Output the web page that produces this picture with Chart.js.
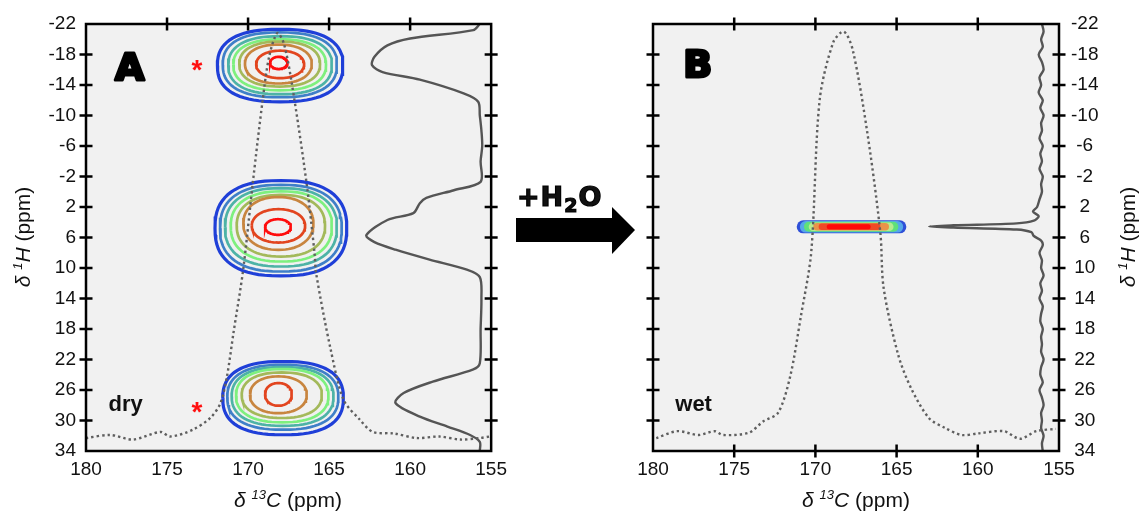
<!DOCTYPE html>
<html>
<head>
<meta charset="utf-8">
<script src="https://cdn.jsdelivr.net/npm/chart.js@4.4.0/dist/chart.umd.min.js"></script>
<style>
  body { margin: 0; background: #fff; width: 1145px; height: 518px; position: relative; overflow: hidden;
         font-family: "Liberation Sans", Arial, sans-serif; color: #111; }
  #cA { position: absolute; left: 0; top: 0; }
  #cB { position: absolute; left: 600px; top: 0; }
  .xt { position: absolute; top: 488px; font-size: 21px; line-height: 24px; white-space: nowrap; transform: translateX(-50%); }
  .yt { position: absolute; top: 237px; font-size: 21px; line-height: 24px; white-space: nowrap;
        transform: translate(-50%, -50%) rotate(-90deg); }
  sup { font-size: 13px; line-height: 0; vertical-align: 8px; }
  #h2o { position: absolute; left: 517px; top: 181px; font: bold 27px "DejaVu Sans", sans-serif;
         -webkit-text-stroke: 1.2px #000; letter-spacing: 1px; }
  #h2o sub { font-size: 19px; line-height: 0; vertical-align: -6px; }
  #arrow { position: absolute; left: 0; top: 0; }
</style>
</head>
<body>
<canvas id="cA" width="514" height="518"></canvas>
<canvas id="cB" width="545" height="518"></canvas>
<svg id="arrow" width="1145" height="518"><polygon points="516,218 612,218 612,207 635,230 612,254 612,242 516,242" fill="#000"/></svg>
<div id="h2o">+H<sub>2</sub>O</div>
<div class="xt" style="left:288px"><i>δ <sup>13</sup>C</i> (ppm)</div>
<div class="xt" style="left:856px"><i>δ <sup>13</sup>C</i> (ppm)</div>
<div class="yt" style="left:23px"><i>δ <sup>1</sup>H</i> (ppm)</div>
<div class="yt" style="left:1128px"><i>δ <sup>1</sup>H</i> (ppm)</div>
<script>
const xTicks = [180, 175, 170, 165, 160, 155];
const yTicks = [-22, -18, -14, -10, -6, -2, 2, 6, 10, 14, 18, 22, 26, 30, 34];

// dry: 1H projection (solid trace on the right)
const dryProjH = [-22, -21.2, -20.1, -19.2, -17.7, -16.6, -15.7, -14.7, -12.9, -11.8, -10, -8, -6, -4, -1.3, -0.2, 0.8, 1.5, 2.8, 3.7, 5.7, 6.6, 7.6, 8.9, 10.2, 11.2, 14, 18, 22.5, 23.3, 24.9, 26.4, 27.7, 29.5, 30.8, 31.9, 32.8, 34];
const dryProjC = [155.7, 156.1, 160.0, 161.4, 162.2, 162.35, 161.7, 159.4, 156.7, 155.8, 155.7, 155.6, 155.55, 155.65, 155.65, 157.3, 159.0, 159.4, 159.8, 161.4, 162.7, 162.2, 160.9, 158.8, 156.5, 155.7, 155.6, 155.65, 155.7, 156.1, 158.6, 160.4, 160.9, 159.4, 157.7, 156.3, 155.7, 155.7];

// dry: 13C projection (dotted)
const dryCprojC = [180, 178.5, 177.1, 175.4, 174.8, 173.4, 172.3, 171.7, 171.3, 170.9, 170.3, 169.7, 169.1, 168.7, 168.2, 167.8, 167.3, 166.4, 165.9, 165.8, 164.9, 164.1, 163.1, 162.3, 161.0, 159.6, 158.2, 156.9, 155.7, 155.1];
const dryCprojH = [32.3, 31.9, 32.5, 31.5, 32.1, 31.2, 29.6, 27.7, 24.2, 18.5, 10.2, -1.3, -12.0, -17.7, -20.8, -19.5, -14.2, -1.3, 8.0, 10.7, 20.7, 27.3, 29.9, 31.5, 31.7, 32.3, 32.1, 32.5, 32.3, 32.1];

// dry: contour levels, outermost first: [C left, C right, H top, H bottom]
const dryPeakTop = [
  [171.89, 164.15, -21.3, -11.8],
  [171.56, 164.52, -20.9, -12.4],
  [171.22, 164.83, -20.4, -12.8],
  [170.91, 165.19, -20.0, -13.3],
  [170.54, 165.56, -19.7, -13.8],
  [170.19, 166.07, -19.3, -14.2],
  [169.5, 166.54, -18.5, -14.9],
  [168.64, 167.57, -17.7, -16.1]
];
const dryPeakMid = [
  [172.04, 163.91, -1.46, 11.03],
  [171.73, 164.22, -0.9, 10.46],
  [171.42, 164.52, -0.47, 9.8],
  [171.07, 164.83, -0.05, 9.15],
  [170.7, 165.25, 0.41, 8.5],
  [170.29, 165.97, 0.7, 7.62],
  [169.77, 166.48, 2.29, 6.66],
  [168.95, 167.36, 3.6, 5.65]
];
const dryPeakBot = [
  [171.56, 164.12, 22.26, 31.87],
  [171.28, 164.43, 22.7, 31.2],
  [171.01, 164.73, 23.0, 30.7],
  [170.74, 165.04, 23.26, 30.24],
  [170.39, 165.45, 23.7, 29.67],
  [169.88, 166.38, 24.22, 29.03],
  [168.95, 167.3, 25.09, 28.06]
];

// wet: 1H projection (solid)
const wetProjH = [-22, -21, -20, -19, -18, -17, -16, -15, -14, -13, -12, -11, -10, -9, -8, -7, -6, -5, -4, -3, -2, -1, 0, 1, 2, 2.6, 3.2, 3.8, 4.15, 4.4, 4.55, 4.7, 4.95, 5.3, 5.8, 6.4, 7, 8, 9, 10, 11, 12, 13, 14, 15, 16, 17, 18, 19, 20, 21, 22, 23, 24, 25, 26, 27, 28, 29, 30, 31, 32, 33, 34];
const wetProjC = [156.05, 155.95, 156.1, 156.0, 156.25, 156.05, 155.95, 156.2, 156.1, 156.25, 156.0, 156.15, 155.95, 156.1, 156.05, 156.2, 156.0, 156.15, 156.05, 156.2, 156.0, 156.1, 156.05, 156.2, 156.35, 156.6, 156.25, 156.55, 157.6, 161.5, 163.0, 161.5, 157.6, 156.7, 156.55, 156.1, 156.0, 156.2, 156.05, 156.1, 155.95, 156.15, 156.05, 156.2, 156.0, 156.1, 156.15, 156.0, 156.1, 156.05, 156.1, 155.95, 156.1, 156.15, 156.0, 156.2, 156.05, 155.95, 156.1, 156.05, 156.1, 155.95, 156.05, 156.0];

// wet: 13C projection (dotted)
const wetCprojC = [179.8, 178.5, 177.2, 176.2, 175.7, 174.1, 173.2, 172.3, 171.55, 170.9, 170.26, 169.74, 168.9, 168.25, 167.7, 166.8, 166.0, 165.8, 164.9, 164.1, 163.0, 162.0, 161.0, 160.0, 158.4, 157.4, 156.4, 155.2];
const wetCprojH = [32.3, 31.4, 31.9, 31.4, 31.9, 31.6, 30.1, 29.0, 24.2, 16.4, 8.0, -12.0, -19.6, -21.0, -18.6, -7.7, 5.4, 12.6, 21.4, 25.8, 29.7, 31.0, 31.9, 31.7, 31.4, 32.4, 31.4, 31.1];

// wet: single narrow cross peak, levels outermost first [C left, C right]
const wetPeakH = 4.6;
const wetPeakC = [
  [170.75, 164.8],
  [170.6, 164.95],
  [170.4, 165.2],
  [170.15, 165.45],
  [169.9, 165.7],
  [169.6, 166.2],
  [169.15, 166.75]
];

const contourColors = ['#1f3fd8', '#3f7fc8', '#4db3a6', '#7ef07e', '#a3b95a', '#c8853f', '#e2451f', '#ff0d0d'];
const ringShape = [2.5, 2.45, 2.4, 2.35, 2.3, 2.2, 2.1, 2.0];
const blobColors = ['#2f50d8', '#55a8e8', '#5fe07a', '#b6ec8e', '#e8944a', '#f04a26', '#ff0a0a'];
const blobWidths = [13, 11.5, 10, 8.5, 7.5, 6.5, 5];

const pts = (xs, ys) => xs.map((v, i) => ({x: v, y: ys[i]}));

function ring(ext, n) {
  const [l, r, t, b] = ext;
  const cx = (l + r) / 2, cy = (t + b) / 2, ax = (l - r) / 2, ay = (b - t) / 2;
  const out = [];
  for (let i = 0; i <= 72; i++) {
    const th = 2 * Math.PI * i / 72, c = Math.cos(th), s = Math.sin(th);
    out.push({x: cx + ax * Math.sign(c) * Math.pow(Math.abs(c), 2 / n),
              y: cy + ay * Math.sign(s) * Math.pow(Math.abs(s), 2 / n)});
  }
  return out;
}

function contours(levels) {
  return levels.map((ext, i) => ({
    data: ring(ext, ringShape[i]),
    borderColor: contourColors[i],
    borderWidth: i === 0 ? 3.2 : 2.7,
    tension: 0
  }));
}

function dotted(xs, ys) {
  return {data: pts(xs, ys), borderColor: '#5f5f5f', borderWidth: 2.4, borderDash: [2.4, 3], tension: 0.3};
}
function solid(xs, ys) {
  return {data: pts(xs, ys), borderColor: '#555', borderWidth: 2.4, tension: 0.3};
}

const framePlugin = {
  id: 'frame',
  beforeDraw(chart) {
    const {ctx, chartArea: a} = chart;
    ctx.save();
    ctx.fillStyle = '#f1f1f1';
    ctx.fillRect(a.left, a.top, a.width, a.height);
    ctx.restore();
  },
  afterDraw(chart, args, opts) {
    const {ctx, chartArea: a, scales: {x, y}} = chart;
    const L = 6.5;
    ctx.save();
    ctx.strokeStyle = '#000';
    ctx.lineWidth = 2.5;
    ctx.strokeRect(a.left, a.top, a.width, a.height);
    ctx.beginPath();
    xTicks.slice(1, -1).forEach(v => {
      const p = x.getPixelForValue(v);
      if (opts.top) { ctx.moveTo(p, a.top - L); ctx.lineTo(p, a.top + L); }
      if (opts.bottom) { ctx.moveTo(p, a.bottom - L); ctx.lineTo(p, a.bottom + L); }
    });
    yTicks.slice(1, -1).forEach(v => {
      const p = y.getPixelForValue(v);
      ctx.moveTo(a.left - L, p); ctx.lineTo(a.left + L, p);
      ctx.moveTo(a.right - L, p); ctx.lineTo(a.right + L, p);
    });
    ctx.stroke();
    // annotations
    (opts.notes || []).forEach(n => {
      ctx.font = n.font;
      ctx.fillStyle = n.color;
      ctx.textAlign = 'center';
      ctx.textBaseline = 'middle';
      const px = x.getPixelForValue(n.x), py = y.getPixelForValue(n.y) + (n.dy || 0);
      if (n.stroke) {
        ctx.lineWidth = n.stroke; ctx.strokeStyle = n.color; ctx.lineJoin = 'round';
        ctx.strokeText(n.text, px, py);
      }
      ctx.fillText(n.text, px, py);
    });
    ctx.restore();
  }
};

const tickFont = {family: '"Liberation Sans", Arial, sans-serif', size: 19};

function makePanel(id, datasets, side, padLeft, padRight, frameOpts) {
  return new Chart(document.getElementById(id), {
    type: 'line',
    data: {datasets},
    options: {
      responsive: false,
      animation: false,
      devicePixelRatio: 1,
      events: [],
      layout: {padding: {top: 24, left: padLeft, right: padRight, bottom: 0}},
      elements: {point: {radius: 0}, line: {fill: false}},
      plugins: {legend: {display: false}, tooltip: {enabled: false}, frame: frameOpts},
      scales: {
        x: {
          type: 'linear', min: 155, max: 180, reverse: true,
          grid: {display: false, drawTicks: false}, border: {display: false},
          ticks: {font: tickFont, color: '#111', padding: 7, maxRotation: 0, autoSkip: false},
          afterBuildTicks: s => { s.ticks = xTicks.map(v => ({value: v})); },
          afterFit: s => { s.height = 67; }
        },
        y: {
          type: 'linear', min: -22, max: 34, reverse: true, position: side,
          grid: {display: false, drawTicks: false}, border: {display: false},
          ticks: {font: tickFont, color: '#111', padding: side === 'left' ? 10 : 12,
                  crossAlign: side === 'left' ? 'near' : 'center', autoSkip: false},
          afterBuildTicks: s => { s.ticks = yTicks.map(v => ({value: v})); },
          afterFit: s => { s.width = 86; }
        }
      }
    },
    plugins: [framePlugin]
  });
}

const letterFont = 'bold 38px "DejaVu Sans", sans-serif';
const tagFont = 'bold 22px "Liberation Sans", Arial, sans-serif';
const starFont = 'bold 28px "Liberation Sans", Arial, sans-serif';

const dryData = [
  dotted(dryCprojC, dryCprojH),
  solid(dryProjC, dryProjH),
  ...contours(dryPeakTop).reverse(),
  ...contours(dryPeakMid).reverse(),
  ...contours(dryPeakBot).reverse()
];
makePanel('cA', dryData, 'left', 0, 19, {
  top: true, bottom: false,
  notes: [
    {text: 'A', x: 177.3, y: -16.0, font: letterFont, color: '#000', stroke: 3},
    {text: 'dry', x: 177.55, y: 27.9, font: tagFont, color: '#111'},
    {text: '*', x: 173.15, y: -16.6, dy: 6, font: starFont, color: '#ff1010'},
    {text: '*', x: 173.15, y: 28.3, dy: 6, font: starFont, color: '#ff1010'}
  ]
});

const wetBlob = wetPeakC.map((c, i) => ({
  data: [{x: c[0], y: wetPeakH}, {x: c[1], y: wetPeakH}],
  borderColor: blobColors[i], borderWidth: blobWidths[i], borderCapStyle: 'round'
})).reverse();
const wetData = [
  dotted(wetCprojC, wetCprojH),
  solid(wetProjC, wetProjH),
  ...wetBlob
];
makePanel('cB', wetData, 'right', 53, 0, {
  top: true, bottom: true,
  notes: [
    {text: 'B', x: 177.25, y: -16.4, font: letterFont, color: '#000', stroke: 3},
    {text: 'wet', x: 177.5, y: 27.9, font: tagFont, color: '#111'}
  ]
});
</script>
</body>
</html>
